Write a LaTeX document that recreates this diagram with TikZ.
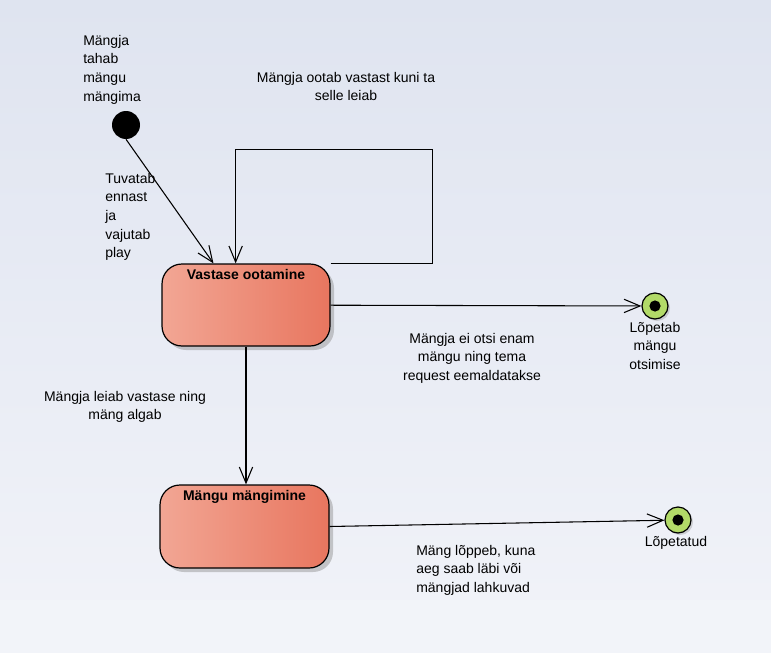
\documentclass[tikz,border=0pt]{standalone}
\usepackage{fontspec}
\setmainfont{Liberation Sans}
\usetikzlibrary{arrows.meta,shadows}

\definecolor{bgtop}{RGB}{223,228,240}
\definecolor{bgbot}{RGB}{240,242,248}
\definecolor{bgfoot}{RGB}{242,244,249}
\definecolor{stleft}{RGB}{242,166,148}
\definecolor{stright}{RGB}{232,118,95}
\definecolor{endgreen}{RGB}{178,218,104}

\begin{document}
\begin{tikzpicture}[x=0.75pt,y=0.75pt,yscale=-1,xscale=1,
  every node/.style={font=\fontsize{10.5}{13.9}\selectfont},
  txt/.style={inner sep=0pt,align=left},
  ctxt/.style={inner sep=0pt,align=center},
  title/.style={inner sep=0pt,font=\fontsize{10.5}{13.9}\selectfont\bfseries},
  state/.style={draw,line width=0.9pt,rounded corners=15pt,minimum width=126pt,minimum height=61.5pt,
    left color=stleft,right color=stright,
    drop shadow={shadow xshift=3pt,shadow yshift=-3pt,fill=black!45,opacity=0.45}},
  start/.style={circle,fill=black,minimum size=21pt,inner sep=0pt},
  stop/.style={circle,draw,line width=0.9pt,fill=endgreen,minimum size=19.5pt,inner sep=0pt,
    drop shadow={shadow xshift=1.5pt,shadow yshift=-1.5pt,fill=black!45,opacity=0.35},
    path picture={\fill[black] (path picture bounding box.center) circle (4.2pt);}},
  trans/.style={line width=0.8pt,-{Straight Barb[length=12pt,width=10pt]}}
]
%background
\fill[top color=bgtop,bottom color=bgbot] (0,0) rectangle (771,600);
\fill[bgfoot] (0,600) rectangle (771,653);
\useasboundingbox (0,0) rectangle (771,653);

%States
\node[state] (wait) at (246,305) {};
\node[state,minimum width=126.75pt,minimum height=62.25pt] (play) at (244.5,526.5) {};
\node[start] (init) at (126,125) {};
\node[stop] (quit) at (655,306) {};
\node[stop] (done) at (678,520) {};

% Text Node
\node[title,anchor=north] (waitT) at (246,269) {Vastase ootamine};
% Text Node
\node[title,anchor=north] (playT) at (244.5,490) {Mängu mängimine};

%Transitions
\draw[trans] (init.south) -- (wait.128);
\draw[trans] (wait.north east) -- ++(102,0) -- ++(0,-114) -| (wait.104);
\draw[trans] (wait) -- (quit);
\draw[trans] (wait.south) -- (wait.south |- play.north);
\draw[trans] (play.east) -- (done);

% Text Node
\node[txt,anchor=north west] (lblInit) at (83,35) {Mängja\\tahab\\mängu\\mängima};
% Text Node
\node[ctxt,anchor=north] (lblLoop) at (346,72) {Mängja ootab vastast kuni ta\\selle leiab};
% Text Node
\node[txt,anchor=north west] (lblPlay) at (105,173) {Tuvatab\\ennast\\ja\\vajutab\\play};
% Text Node
\node[ctxt,anchor=north] (lblQuit) at (472,333) {Mängja ei otsi enam\\mängu ning tema\\request eemaldatakse};
% Text Node
\node[ctxt,anchor=north] (lblQuitEnd) at (655,322) {Lõpetab\\mängu\\otsimise};
% Text Node
\node[ctxt,anchor=north] (lblFound) at (125,391) {Mängja leiab vastase ning\\mäng algab};
% Text Node
\node[ctxt,anchor=north] (lblDoneEnd) at (676,536) {Lõpetatud};
% Text Node
\node[txt,anchor=north west] (lblDone) at (416,545) {Mäng lõppeb, kuna\\aeg saab läbi või\\mängjad lahkuvad};
\end{tikzpicture}
\end{document}
